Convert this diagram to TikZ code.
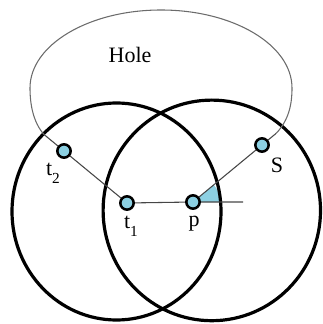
\documentclass[tikz,border=0pt]{standalone}
\usepackage{fontspec}
\setmainfont{Liberation Serif}
\usetikzlibrary{backgrounds}
\definecolor{nodeblue}{RGB}{140,208,226}
\definecolor{thinline}{RGB}{70,70,70}
\begin{document}
\begin{tikzpicture}[x=0.75pt,y=-0.75pt,
  sensor/.style={circle,draw=black,line width=1.9pt,fill=nodeblue,minimum size=10pt,inner sep=0pt},
  rangecircle/.style={draw=black,line width=2.4pt},
  link/.style={draw=thinline,line width=0.8pt},
  holeline/.style={draw=thinline!80,line width=0.8pt},
  lbl/.style={font=\fontsize{16.5}{18}\selectfont,inner sep=0pt}]
\useasboundingbox (0,0) rectangle (322,324);
% nodes
\node[sensor] (t1) at (127,203) {};
\node[sensor] (p) at (193,202) {};
\node[sensor] (t2) at (64,151) {};
\node[sensor] (S) at (262,145) {};
\coordinate (A) at (44,134.5);
\coordinate (B) at (276,133.5);
\coordinate (E) at (243,202);
\begin{scope}[on background layer]
  % angle wedge
  \fill[nodeblue] (p.center) -- ++(27*0.75pt,0) arc[start angle=0,end angle=40,radius=27*0.75pt] -- cycle;
  % range circles
  \draw[rangecircle] (116.5,211.5) ellipse[x radius=104.5*0.75pt, y radius=108.5*0.75pt];
  \draw[rangecircle] (211.8,210.4) ellipse[x radius=108.7*0.75pt, y radius=110.3*0.75pt];
  % links
  \draw[link] (t1.center) -- (p.center) -- (E);
  \draw[link] (t1.center) -- (t2.center) -- (A);
  \draw[link] (p.center) -- (S.center) -- (B);
  % hole boundary
  \draw[holeline] (A) .. controls (33,122) and (30,104) .. (30,88)
    arc[start angle=180,end angle=0,x radius=131*0.75pt,y radius=78*0.75pt]
    .. controls (292,104) and (289,120) .. (B);
\end{scope}
% labels
\node[lbl] (hole) at (130,55) {Hole};
\node[lbl] (lt2) at (53,173) {t\raisebox{-0.35em}{\fontsize{11.5}{12}\selectfont 2}};
\node[lbl] (lt1) at (131,226) {t\raisebox{-0.35em}{\fontsize{11.5}{12}\selectfont 1}};
\node[lbl] (lp) at (194,224) {p};
\node[lbl] (lS) at (277,165) {S};
\end{tikzpicture}
\end{document}
